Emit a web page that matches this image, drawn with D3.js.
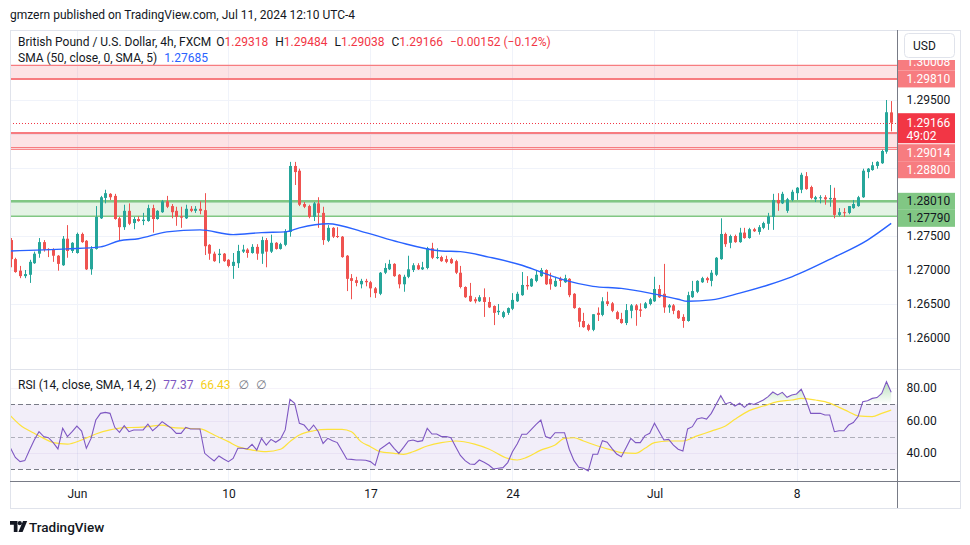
<!DOCTYPE html>
<html><head><meta charset="utf-8">
<script src="https://cdn.jsdelivr.net/npm/d3@7/dist/d3.min.js"></script>
<style>
html,body{margin:0;padding:0;background:#fff;}
svg{display:block;}
text{font-family:Roboto,"DejaVu Sans",sans-serif;}
</style></head><body>
<svg id="chart" width="970" height="545"></svg>
<script>
// ---------------- DATA (GBP/USD 4h) ----------------
const opens = [1.2744,1.2716,1.2699,1.2691,1.2693,1.2710,1.2724,1.2741,1.2731,1.2730,
1.2721,1.2707,1.2746,1.2728,1.2725,1.2753,1.2743,1.2701,1.2731,1.2776,
1.2806,1.2812,1.2809,1.2776,1.2763,1.2787,1.2769,1.2775,1.2772,1.2772,
1.2791,1.2775,1.2785,1.2801,1.2794,1.2787,1.2779,1.2776,1.2790,1.2787,
1.2790,1.2788,1.2737,1.2724,1.2722,1.2724,1.2715,1.2706,1.2710,1.2727,
1.2730,1.2725,1.2734,1.2724,1.2744,1.2727,1.2740,1.2731,1.2737,1.2756,
1.2853,1.2846,1.2797,1.2794,1.2778,1.2798,1.2784,1.2743,1.2762,1.2750,
1.2749,1.2721,1.2688,1.2685,1.2679,1.2684,1.2682,1.2673,1.2665,1.2696,
1.2701,1.2709,1.2693,1.2679,1.2690,1.2700,1.2707,1.2701,1.2703,1.2732,
1.2718,1.2719,1.2716,1.2716,1.2713,1.2696,1.2675,1.2662,1.2657,1.2654,
1.2660,1.2653,1.2647,1.2638,1.2631,1.2637,1.2643,1.2654,1.2663,1.2678,
1.2676,1.2684,1.2691,1.2700,1.2687,1.2676,1.2687,1.2682,1.2687,1.2665,
1.2644,1.2625,1.2619,1.2612,1.2637,1.2634,1.2654,1.2651,1.2638,1.2628,
1.2622,1.2640,1.2648,1.2642,1.2644,1.2650,1.2654,1.2672,1.2665,1.2645,
1.2648,1.2640,1.2631,1.2625,1.2660,1.2668,1.2682,1.2688,1.2684,1.2693,
1.2716,1.2753,1.2740,1.2750,1.2741,1.2755,1.2747,1.2760,1.2756,1.2762,
1.2768,1.2778,1.2803,1.2798,1.2787,1.2803,1.2813,1.2818,1.2838,1.2822,
1.2804,1.2806,1.2807,1.2804,1.2806,1.2781,1.2785,1.2784,1.2791,1.2794,
1.2807,1.2844,1.2847,1.2853,1.2857,1.2874,1.29318];
const highs = [1.2747,1.2718,1.2706,1.2700,1.2715,1.2727,1.2747,1.2744,1.2732,1.2732,
1.2722,1.2750,1.2766,1.2741,1.2755,1.2755,1.2744,1.2735,1.2794,1.2809,
1.2818,1.2813,1.2812,1.2778,1.2796,1.2798,1.2778,1.2779,1.2784,1.2796,
1.2796,1.2788,1.2803,1.2809,1.2797,1.2793,1.2793,1.2796,1.2794,1.2794,
1.2801,1.2813,1.2738,1.2727,1.2731,1.2725,1.2716,1.2725,1.2737,1.2737,
1.2732,1.2738,1.2738,1.2749,1.2747,1.2752,1.2741,1.2740,1.2760,1.2859,
1.2859,1.2849,1.2800,1.2796,1.2800,1.2807,1.2793,1.2766,1.2763,1.2763,
1.2750,1.2722,1.2694,1.2690,1.2687,1.2687,1.2684,1.2675,1.2697,1.2710,
1.2715,1.2710,1.2694,1.2693,1.2721,1.2710,1.2710,1.2712,1.2734,1.2740,
1.2732,1.2721,1.2721,1.2718,1.2715,1.2706,1.2676,1.2681,1.2660,1.2663,
1.2673,1.2660,1.2648,1.2650,1.2640,1.2645,1.2666,1.2668,1.2697,1.2691,
1.2688,1.2700,1.2703,1.2701,1.2696,1.2690,1.2690,1.2693,1.2688,1.2666,
1.2645,1.2637,1.2621,1.2635,1.2645,1.2660,1.2668,1.2653,1.2640,1.2637,
1.2650,1.2650,1.2650,1.2651,1.2653,1.2659,1.2690,1.2678,1.2709,1.2650,
1.2650,1.2641,1.2635,1.2668,1.2684,1.2685,1.2690,1.2690,1.2700,1.2719,
1.2776,1.2755,1.2752,1.2752,1.2762,1.2762,1.2762,1.2762,1.2766,1.2771,
1.2784,1.2812,1.2813,1.2815,1.2806,1.2818,1.2822,1.2843,1.2844,1.2824,
1.2809,1.2810,1.2810,1.2825,1.2821,1.2791,1.2791,1.2794,1.2803,1.2809,
1.2849,1.2850,1.2859,1.2860,1.2877,1.2950,1.29484];
const lows = [1.2704,1.2696,1.2688,1.2688,1.2681,1.2709,1.2718,1.2727,1.2719,1.2712,
1.2699,1.2706,1.2718,1.2725,1.2724,1.2740,1.2700,1.2693,1.2730,1.2775,
1.2798,1.2803,1.2774,1.2743,1.2759,1.2766,1.2760,1.2771,1.2766,1.2771,
1.2755,1.2774,1.2784,1.2791,1.2776,1.2765,1.2762,1.2775,1.2785,1.2784,
1.2782,1.2722,1.2715,1.2712,1.2710,1.2712,1.2704,1.2687,1.2703,1.2725,
1.2718,1.2724,1.2715,1.2709,1.2704,1.2725,1.2730,1.2730,1.2735,1.2749,
1.2825,1.2794,1.2791,1.2776,1.2772,1.2762,1.2737,1.2741,1.2747,1.2747,
1.2718,1.2669,1.2657,1.2676,1.2673,1.2676,1.2660,1.2659,1.2663,1.2694,
1.2700,1.2690,1.2673,1.2668,1.2688,1.2697,1.2700,1.2700,1.2701,1.2716,
1.2716,1.2712,1.2710,1.2709,1.2694,1.2673,1.2659,1.2653,1.2651,1.2653,
1.2631,1.2644,1.2619,1.2634,1.2629,1.2634,1.2641,1.2653,1.2662,1.2671,
1.2675,1.2682,1.2690,1.2678,1.2671,1.2675,1.2675,1.2681,1.2660,1.2643,
1.2616,1.2615,1.2610,1.2610,1.2625,1.2632,1.2647,1.2638,1.2627,1.2621,
1.2619,1.2629,1.2618,1.2631,1.2643,1.2648,1.2653,1.2659,1.2637,1.2637,
1.2635,1.2628,1.2615,1.2624,1.2659,1.2666,1.2681,1.2681,1.2676,1.2691,
1.2715,1.2734,1.2732,1.2740,1.2740,1.2746,1.2746,1.2756,1.2752,1.2760,
1.2759,1.2759,1.2787,1.2797,1.2784,1.2801,1.2803,1.2813,1.2818,1.2804,
1.2800,1.2798,1.2796,1.2793,1.2776,1.2779,1.2778,1.2782,1.2790,1.2793,
1.2806,1.2835,1.2846,1.2849,1.2856,1.2871,1.29038];
const closes = [1.2716,1.2697,1.2691,1.2694,1.2712,1.2724,1.2741,1.2730,1.2730,1.2721,
1.2709,1.2746,1.2728,1.2740,1.2753,1.2741,1.2701,1.2731,1.2778,1.2807,
1.2813,1.2807,1.2775,1.2763,1.2787,1.2768,1.2775,1.2772,1.2774,1.2791,
1.2775,1.2787,1.2801,1.2793,1.2785,1.2778,1.2777,1.2790,1.2787,1.2790,
1.2787,1.2735,1.2724,1.2713,1.2724,1.2713,1.2706,1.2712,1.2728,1.2730,
1.2725,1.2734,1.2724,1.2744,1.2727,1.2740,1.2731,1.2738,1.2757,1.2853,
1.2844,1.2796,1.2793,1.2778,1.2798,1.2784,1.2744,1.2762,1.2749,1.2749,
1.2719,1.2687,1.2684,1.2681,1.2684,1.2682,1.2673,1.2666,1.2696,1.2703,
1.2709,1.2691,1.2679,1.2690,1.2701,1.2707,1.2701,1.2704,1.2732,1.2718,
1.2719,1.2713,1.2712,1.2710,1.2696,1.2675,1.2660,1.2654,1.2654,1.2660,
1.2653,1.2645,1.2637,1.2640,1.2638,1.2644,1.2656,1.2665,1.2678,1.2676,
1.2687,1.2693,1.2700,1.2679,1.2679,1.2684,1.2684,1.2688,1.2663,1.2644,
1.2624,1.2616,1.2612,1.2635,1.2634,1.2654,1.2650,1.2640,1.2628,1.2622,
1.2641,1.2648,1.2641,1.2640,1.2651,1.2657,1.2672,1.2660,1.2645,1.2648,
1.2640,1.2629,1.2625,1.2663,1.2669,1.2684,1.2688,1.2685,1.2696,1.2718,
1.2753,1.2738,1.2750,1.2741,1.2755,1.2747,1.2760,1.2757,1.2763,1.2769,
1.2779,1.2803,1.2798,1.2812,1.2804,1.2815,1.2821,1.2840,1.2819,1.2806,
1.2807,1.2807,1.2804,1.2806,1.2781,1.2785,1.2784,1.2794,1.2797,1.2807,
1.2846,1.2849,1.2854,1.2859,1.2875,1.2932,1.29166];

// SMA(50) read at sampled bars
const smaIdx = [0,12,19,23,27,33,40,47,53,58,61,67,75,82,91,95,101,108,112,117,123,129,135,141,143,148,154,160,165,174,181,186];
const smaVal = [1.2728,1.2731,1.2734,1.2743,1.2746,1.2756,1.2759,1.2752,1.2755,1.2756,1.2762,1.2768,1.2755,1.2741,1.2728,1.2727,1.2719,1.2707,1.2697,1.2685,1.2676,1.2673,1.2666,1.2657,1.2654,1.2656,1.2666,1.2678,1.2690,1.2719,1.2744,1.27685];

// RSI(14) per bar
const rsi = [42.9,37.3,34.7,35.3,41.8,48.0,53.1,50.1,49.4,46.4,
42.5,55.2,50.1,53.1,56.6,53.5,42.9,49.0,60.3,64.4,
65.0,64.4,55.8,52.7,56.8,53.1,54.2,54.2,54.2,57.8,
53.7,56.2,59.3,57.2,55.2,52.1,52.1,55.8,54.8,54.8,
54.8,39.8,37.3,35.1,38.2,36.3,34.7,36.7,42.9,42.9,
42.5,45.3,41.8,49.0,44.9,48.4,46.6,48.6,54.2,73.0,
70.6,58.3,57.2,53.7,57.2,53.1,45.9,49.0,47.6,46.4,
41.4,36.3,36.1,35.7,35.7,35.5,34.7,32.4,42.3,44.3,
46.4,42.9,39.8,43.5,47.4,48.0,47.0,47.6,55.2,51.7,
51.7,50.1,50.1,49.4,43.9,38.5,35.3,33.2,33.0,35.7,
34.3,32.6,30.2,30.6,31.0,34.1,40.8,45.5,51.5,51.5,
54.6,57.6,60.3,50.1,49.0,52.5,52.5,52.5,42.3,35.3,
31.2,30.6,28.9,39.2,39.2,47.6,46.6,42.9,39.4,37.7,
43.3,49.0,46.4,46.4,50.7,52.1,58.3,53.1,48.0,48.4,
44.9,42.3,41.2,54.8,56.2,60.9,61.7,60.9,64.4,69.9,
75.3,70.2,71.2,68.9,70.6,68.1,70.6,69.9,71.2,72.6,
74.7,77.5,75.7,77.3,74.3,75.7,76.3,79.2,72.6,64.4,
64.4,64.4,63.4,63.4,53.1,53.7,53.7,57.2,58.7,62.4,
71.6,72.2,73.6,74.1,76.7,83.9,77.37];

// RSI-based SMA(14) read at sampled bars
const rsiMaIdx = [0,2,5,7,9,12,15,18,21,24,27,29,32,34,37,40,43,46,48,51,54,57,59,61,64,67,70,72,74,76,78,81,83,85,88,91,94,98,101,105,107,109,112,115,117,119,121,124,127,129,132,134,136,139,142,145,148,151,153,156,159,162,165,167,170,172,175,177,179,182,184,186];
const rsiMaVal = [62.8,57.2,52.1,49.0,46.4,45.5,48.0,51.7,54.2,55.6,55.8,56.2,57.2,55.8,55.2,54.8,51.1,47.0,43.9,41.8,40.8,42.3,47.0,51.1,53.7,54.6,54.6,53.1,47.0,43.9,40.8,39.8,39.2,40.8,44.3,46.4,47.4,45.5,42.5,36.7,35.7,37.3,41.8,44.9,49.0,49.4,47.4,44.3,41.8,40.2,39.8,42.9,46.4,47.4,47.4,50.5,53.5,56.6,60.7,66.1,68.9,71.6,72.6,73.6,72.6,71.6,68.1,65.4,62.8,62.4,64.4,66.43];

// zones drawn on the chart
const redZones = [[1.30008,1.29810],[1.29014,1.28800]];
const greenZones = [[1.28010,1.27790]];

// axes
const timeTickIdx = [14,46,76,106,136,166];
const timeTickLabels = ["Jun","10","17","24","Jul","8"];
const priceTicks = [1.295,1.275,1.27,1.265,1.26];
const priceGrid = [1.295,1.29,1.285,1.28,1.275,1.27,1.265,1.26];
const rsiTicks = [80,60,40];
const countdown = "49:02";

// ---------------- DRAW ----------------
const svg = d3.select('#chart');
const LEFT=10, AXISX=897.5, RIGHT=960, TOP=30, SEP=369.5, TAXIS=481.5, BOTTOM=508;
const N = closes.length;
const x = d3.scaleLinear().domain([0, N-1]).range([10.6, 891.2]);
const y = d3.scaleLinear().domain([1.26, 1.295]).range([338, 100]);
const yR = d3.scaleLinear().domain([40, 80]).range([453, 388]);
const UP='#26a69a', DN='#ef5350';

svg.append('rect').attr('width',970).attr('height',545).attr('fill','#fff');

const defs = svg.append('defs');
defs.append('clipPath').attr('id','clipP').append('rect')
  .attr('x',LEFT).attr('y',TOP).attr('width',AXISX-LEFT).attr('height',SEP-TOP);
defs.append('clipPath').attr('id','clipR').append('rect')
  .attr('x',LEFT).attr('y',SEP+0.5).attr('width',AXISX-LEFT).attr('height',TAXIS-SEP-0.5);
defs.append('clipPath').attr('id','clipOB').append('rect')
  .attr('x',LEFT).attr('y',SEP).attr('width',AXISX-LEFT).attr('height',yR(70)-SEP);
defs.append('clipPath').attr('id','clipOS').append('rect')
  .attr('x',LEFT).attr('y',yR(30)).attr('width',AXISX-LEFT).attr('height',TAXIS-yR(30));
const gOB = defs.append('linearGradient').attr('id','gradOB').attr('gradientUnits','userSpaceOnUse')
  .attr('x1',0).attr('x2',0).attr('y1',yR(86)).attr('y2',yR(70));
gOB.append('stop').attr('offset',0).attr('stop-color','rgb(76,175,80)').attr('stop-opacity',0.45);
gOB.append('stop').attr('offset',1).attr('stop-color','rgb(76,175,80)').attr('stop-opacity',0);
const gOS = defs.append('linearGradient').attr('id','gradOS').attr('gradientUnits','userSpaceOnUse')
  .attr('x1',0).attr('x2',0).attr('y1',yR(30)).attr('y2',yR(14));
gOS.append('stop').attr('offset',0).attr('stop-color','rgb(242,54,69)').attr('stop-opacity',0);
gOS.append('stop').attr('offset',1).attr('stop-color','rgb(242,54,69)').attr('stop-opacity',0.45);

// grid
const grid = svg.append('g');
grid.selectAll('line.v').data(timeTickIdx).join('line')
  .attr('x1',d=>Math.round(x(d))+0.5).attr('x2',d=>Math.round(x(d))+0.5)
  .attr('y1',TOP).attr('y2',TAXIS).attr('stroke','#f0f3fa');
grid.selectAll('line.h').data(priceGrid).join('line')
  .attr('x1',LEFT).attr('x2',AXISX).attr('y1',d=>Math.round(y(d))+0.5).attr('y2',d=>Math.round(y(d))+0.5)
  .attr('stroke','#f0f3fa');

// price pane
const P = svg.append('g').attr('clip-path','url(#clipP)');
function zone(z, fill, stroke, wTop, wBot){
  const yt = y(z[0]), yb = y(z[1]);
  P.append('rect').attr('x',LEFT).attr('width',AXISX-LEFT).attr('y',yt).attr('height',yb-yt).attr('fill',fill);
  P.append('line').attr('x1',LEFT).attr('x2',AXISX).attr('y1',yt).attr('y2',yt).attr('stroke',stroke).attr('stroke-width',wTop);
  P.append('line').attr('x1',LEFT).attr('x2',AXISX).attr('y1',yb).attr('y2',yb).attr('stroke',stroke).attr('stroke-width',wBot);
}
zone(redZones[0],'rgba(242,54,69,0.14)','#f77c80',1.2,2);
zone(redZones[1],'rgba(242,54,69,0.14)','#f77c80',2,1.2);
P.append('line').attr('x1',LEFT).attr('x2',AXISX).attr('y1',y(redZones[1][1])+1.8).attr('y2',y(redZones[1][1])+1.8)
  .attr('stroke','#f77c80').attr('stroke-width',1);
zone(greenZones[0],'rgba(76,175,80,0.15)','#81c784',2.5,1.5);

// candles
const bars = d3.range(N);
const cg = P.append('g');
cg.selectAll('line.w').data(bars).join('line')
  .attr('x1',i=>Math.round(x(i))+0.5).attr('x2',i=>Math.round(x(i))+0.5)
  .attr('y1',i=>y(highs[i])).attr('y2',i=>y(lows[i]))
  .attr('stroke',i=>closes[i]>=opens[i]?UP:DN).attr('stroke-width',1);
cg.selectAll('rect.b').data(bars).join('rect')
  .attr('x',i=>Math.round(x(i))-1).attr('width',3)
  .attr('y',i=>y(Math.max(opens[i],closes[i])))
  .attr('height',i=>Math.max(1, Math.abs(y(opens[i])-y(closes[i]))))
  .attr('fill',i=>closes[i]>=opens[i]?UP:DN);

// SMA
const smaPts = smaIdx.map((d,k)=>[d, smaVal[k]]);
P.append('path').datum(smaPts)
  .attr('d', d3.line().x(d=>x(d[0])).y(d=>y(d[1])).curve(d3.curveMonotoneX))
  .attr('fill','none').attr('stroke','#2962ff').attr('stroke-width',1.4);

// current price line
const last = closes[N-1];
P.append('line').attr('x1',LEFT).attr('x2',AXISX).attr('y1',Math.round(y(last))+0.5).attr('y2',Math.round(y(last))+0.5)
  .attr('stroke','#f23645').attr('stroke-dasharray','1,2');

// RSI pane
const Rg = svg.append('g').attr('clip-path','url(#clipR)');
Rg.append('rect').attr('x',LEFT).attr('width',AXISX-LEFT).attr('y',yR(70)).attr('height',yR(30)-yR(70))
  .attr('fill','rgba(126,87,194,0.1)');
Rg.selectAll('line.rg').data(rsiTicks).join('line')
  .attr('x1',LEFT).attr('x2',AXISX).attr('y1',d=>Math.round(yR(d))+0.5).attr('y2',d=>Math.round(yR(d))+0.5)
  .attr('stroke','rgba(126,87,194,0.08)');
[[70,'#787b86'],[30,'#787b86'],[50,'rgba(120,123,134,0.55)']].forEach(([v,c])=>{
  Rg.append('line').attr('x1',LEFT).attr('x2',AXISX).attr('y1',Math.round(yR(v))+0.5).attr('y2',Math.round(yR(v))+0.5)
    .attr('stroke',c).attr('stroke-dasharray','5,3');
});
const rsiArea70 = d3.area().x((d,i)=>x(i)).y0(yR(70)).y1(d=>yR(d));
Rg.append('path').datum(rsi).attr('clip-path','url(#clipOB)').attr('d',rsiArea70).attr('fill','url(#gradOB)');
const rsiArea30 = d3.area().x((d,i)=>x(i)).y0(yR(30)).y1(d=>yR(d));
Rg.append('path').datum(rsi).attr('clip-path','url(#clipOS)').attr('d',rsiArea30).attr('fill','url(#gradOS)');
const maPts = rsiMaIdx.map((d,k)=>[d, rsiMaVal[k]]);
Rg.append('path').datum(maPts)
  .attr('d', d3.line().x(d=>x(d[0])).y(d=>yR(d[1])).curve(d3.curveMonotoneX))
  .attr('fill','none').attr('stroke','#fde23c').attr('stroke-width',1.2);
Rg.append('path').datum(rsi)
  .attr('d', d3.line().x((d,i)=>x(i)).y(d=>yR(d)))
  .attr('fill','none').attr('stroke','#7e57c2').attr('stroke-width',1.1);

// frame & axis lines
svg.append('rect').attr('x',LEFT+0.5).attr('y',TOP+0.5).attr('width',RIGHT-LEFT).attr('height',BOTTOM-TOP)
  .attr('fill','none').attr('stroke','#e0e3eb');
svg.append('line').attr('x1',LEFT).attr('x2',RIGHT).attr('y1',SEP).attr('y2',SEP).attr('stroke','#e0e3eb');
svg.append('line').attr('x1',LEFT).attr('x2',RIGHT).attr('y1',TAXIS).attr('y2',TAXIS).attr('stroke','#787b86');
svg.append('line').attr('x1',AXISX).attr('x2',AXISX).attr('y1',TOP).attr('y2',BOTTOM).attr('stroke','#787b86');

// axes (D3)
const pAxis = svg.append('g').attr('transform',`translate(${AXISX},0)`)
  .call(d3.axisRight(y).tickValues(priceTicks).tickFormat(d3.format('.5f')).tickSize(0).tickPadding(9));
const rAxis = svg.append('g').attr('transform',`translate(${AXISX},0)`)
  .call(d3.axisRight(yR).tickValues(rsiTicks).tickFormat(d3.format('.2f')).tickSize(0).tickPadding(9));
const tAxis = svg.append('g').attr('transform',`translate(0,${TAXIS})`)
  .call(d3.axisBottom(x).tickValues(timeTickIdx).tickFormat((d,i)=>timeTickLabels[i]).tickSize(0).tickPadding(8));
[pAxis,rAxis,tAxis].forEach(g=>{
  g.select('.domain').remove();
  g.selectAll('text').attr('font-family','Roboto, "DejaVu Sans", sans-serif').attr('font-size',12).attr('fill','#131722');
});

// price labels on axis
const lab = [];
redZones.forEach(z=>z.forEach(v=>lab.push({v, bg:'#f77c80', fg:'#ffffff'})));
greenZones.forEach(z=>z.forEach(v=>lab.push({v, bg:'#81c784', fg:'#131722'})));
const cy = y(last), curTop = cy-9.5, curBot = cy+20.5, LH = 17;
let lim = curTop;
lab.filter(d=>y(d.v)<cy).sort((a,b)=>y(b.v)-y(a.v)).forEach(d=>{
  let c = y(d.v); if (c+LH/2>lim) c = lim-LH/2; d.c = c; lim = c-LH/2; });
lim = curBot + 1;
lab.filter(d=>y(d.v)>=cy).sort((a,b)=>y(a.v)-y(b.v)).forEach(d=>{
  let c = y(d.v); if (c-LH/2<lim) c = lim+LH/2; d.c = c; lim = c+LH/2; });
const lg = svg.append('g');
lab.forEach(d=>{
  lg.append('rect').attr('x',AXISX+0.5).attr('width',57).attr('y',d.c-LH/2).attr('height',LH).attr('fill',d.bg);
  lg.append('text').attr('x',AXISX+9).attr('y',d.c).attr('dominant-baseline','central')
    .attr('font-size',12).attr('fill',d.fg).text(d3.format('.5f')(d.v));
});
lg.append('rect').attr('x',AXISX+0.5).attr('width',57).attr('y',curTop).attr('height',curBot-curTop).attr('fill','#f23645');
lg.append('text').attr('x',AXISX+9).attr('y',cy).attr('dominant-baseline','central')
  .attr('font-size',12).attr('fill','#fff').text(d3.format('.5f')(last));
lg.append('text').attr('x',AXISX+9).attr('y',cy+13).attr('dominant-baseline','central')
  .attr('font-size',12).attr('fill','#fff').text(countdown);

// USD button (covers the top of the axis)
svg.append('rect').attr('x',AXISX+0.5).attr('y',TOP+1).attr('width',RIGHT-AXISX-0.5).attr('height',29).attr('fill','#fff');
svg.append('rect').attr('x',904.5).attr('y',33.5).attr('width',50).attr('height',24).attr('rx',4)
  .attr('fill','#fff').attr('stroke','#e0e3eb');
svg.append('text').attr('x',913).attr('y',45.5).attr('dominant-baseline','central').attr('font-size',12)
  .attr('fill','#131722').text('USD');

// header
svg.append('text').attr('x',10).attr('y',19).attr('font-size',12).attr('fill','#131722')
  .text('gmzern published on TradingView.com, Jul 11, 2024 12:10 UTC-4');

// legend
const RED='#f23645';
const leg1 = svg.append('text').attr('x',18).attr('y',46).attr('font-size',12).attr('fill','#131722');
leg1.append('tspan').text('British Pound / U.S. Dollar, 4h, FXCM');
[['O',opens[N-1]],['H',highs[N-1]],['L',lows[N-1]],['C',closes[N-1]]].forEach(([k,v],i)=>{
  leg1.append('tspan').attr('dx',i===0?5:7).attr('fill','#131722').text(k);
  leg1.append('tspan').attr('fill',RED).text(d3.format('.5f')(v));
});
const chg = closes[N-1]-opens[N-1];
leg1.append('tspan').attr('dx',7).attr('fill',RED)
  .text('\u2212' + d3.format('.5f')(Math.abs(chg)) + ' (\u2212' + d3.format('.2f')(Math.abs(chg)/opens[N-1]*100) + '%)');
const leg2 = svg.append('text').attr('x',18).attr('y',62).attr('font-size',12).attr('fill','#131722');
leg2.append('tspan').text('SMA (50, close, 0, SMA, 5)');
leg2.append('tspan').attr('dx',7).attr('fill','#2962ff').text(d3.format('.5f')(smaVal[smaVal.length-1]));
const leg3 = svg.append('text').attr('x',18).attr('y',389).attr('font-size',12).attr('fill','#131722');
leg3.append('tspan').text('RSI (14, close, SMA, 14, 2)');
leg3.append('tspan').attr('dx',7).attr('fill','#7e57c2').text(d3.format('.2f')(rsi[N-1]));
leg3.append('tspan').attr('dx',7).attr('fill','#f5cf1a').text(d3.format('.2f')(rsiMaVal[rsiMaVal.length-1]));
leg3.append('tspan').attr('dx',8).attr('fill','#787b86').text('\u2205');
leg3.append('tspan').attr('dx',7).attr('fill','#787b86').text('\u2205');

// footer logo
const fg = svg.append('g').attr('fill','#131722');
fg.append('path').attr('d','M10,521 h7.5 v11 h-3.7 v-7.3 h-3.8 z');
fg.append('circle').attr('cx',19.8).attr('cy',523.2).attr('r',2.1);
fg.append('path').attr('d','M23,521 h4.2 l-4.6,11 h-4.2 z');
svg.append('text').attr('x',29).attr('y',531.5).attr('font-size',13.5).attr('font-weight',500)
  .attr('fill','#131722').text('TradingView');
</script>
</body></html>
